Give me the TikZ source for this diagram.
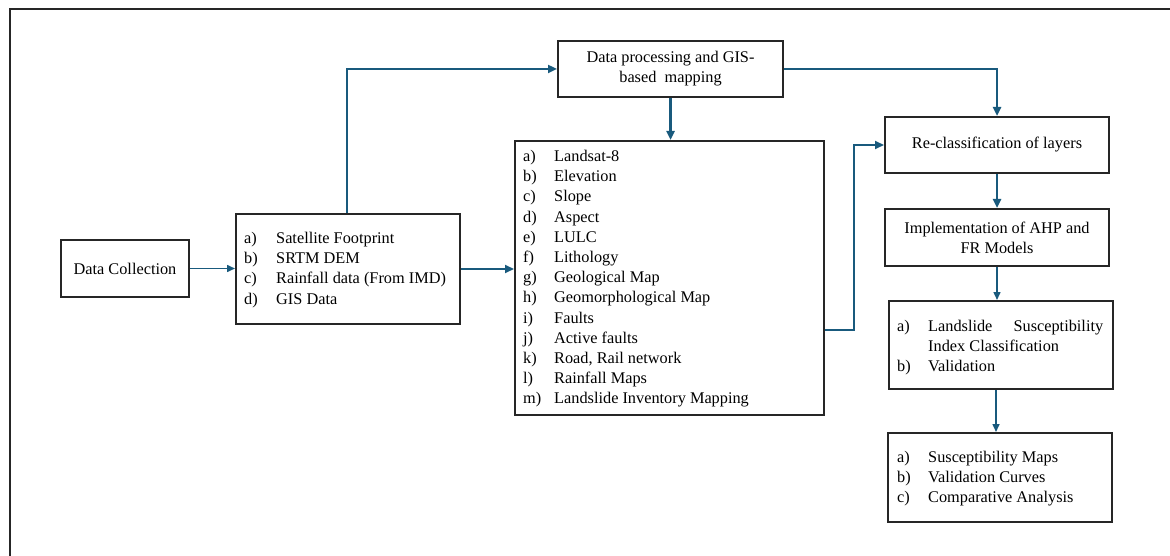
\documentclass[tikz,border=0pt]{standalone}
\usepackage{fontspec}
\setmainfont{Liberation Serif}
\usetikzlibrary{arrows.meta}
\definecolor{conn}{RGB}{25,90,125}
\tikzset{
  box/.style={draw=black!85, line width=2pt, inner sep=0pt, anchor=north west, align=center,
    font=\fontsize{16.3}{20.2}\selectfont},
  thickarr/.style={draw=conn, line width=2.4pt, -{Triangle[length=9pt,width=8pt]}},
  medarr/.style={draw=conn, line width=1.9pt, -{Triangle[length=9pt,width=8pt]}},
  thinarr/.style={draw=conn, line width=1.5pt, -{Triangle[length=8pt,width=7pt]}},
  listtxt/.style={inner sep=0pt, anchor=base west, font=\fontsize{16.3}{20.2}\selectfont},
}
\begin{document}
\begin{tikzpicture}[x=1pt,y=-1pt]
\useasboundingbox (0,0) rectangle (1170,556);
% outer frame (top and left edges visible)
\draw[line width=2pt, black!85] (9.5,560) -- (9.5,9.5) -- (1175,9.5);

% boxes
\node[box, minimum width=128pt, minimum height=57pt] (dc) at (60,239) {Data Collection};
\node[box, minimum width=224pt, minimum height=110pt] (sat) at (235,213) {};
\node[box, minimum width=225pt, minimum height=56pt] (dp) at (557,40) {Data processing and GIS-\\based\ \ mapping};
\node[box, minimum width=309pt, minimum height=274pt] (big) at (514,140) {};
\node[box, minimum width=224pt, minimum height=56pt] (rc) at (884,116) {Re-classification of layers};
\node[box, minimum width=224pt, minimum height=57pt] (impl) at (884,208) {Implementation of AHP and\\FR Models};
\node[box, minimum width=224pt, minimum height=88pt] (ls) at (888,300) {};
\node[box, minimum width=224pt, minimum height=89pt] (fin) at (887,432) {};

% list texts
\node[listtxt] (sattxt) at (244,243.5) {\begin{tabular}[t]{@{}p{32pt}@{}l@{}}
a) & Satellite Footprint\\
b) & SRTM DEM\\
c) & Rainfall data (From IMD)\\
d) & GIS Data
\end{tabular}};
\node[listtxt] (bigtxt) at (523,161.5) {\begin{tabular}[t]{@{}p{31pt}@{}l@{}}
a) & Landsat-8\\
b) & Elevation\\
c) & Slope\\
d) & Aspect\\
e) & LULC\\
f) & Lithology\\
g) & Geological Map\\
h) & Geomorphological Map\\
i) & Faults\\
j) & Active faults\\
k) & Road, Rail network\\
l) & Rainfall Maps\\
m) & Landslide Inventory Mapping
\end{tabular}};
\node[listtxt] (lstxt) at (897,331.5) {\begin{tabular}[t]{@{}p{31pt}@{}l@{}}
a) & \makebox[175pt][l]{Landslide\hfill Susceptibility}\\
   & Index Classification\\
b) & Validation
\end{tabular}};
\node[listtxt] (fintxt) at (897,462.5) {\begin{tabular}[t]{@{}p{31pt}@{}l@{}}
a) & Susceptibility Maps\\
b) & Validation Curves\\
c) & Comparative Analysis
\end{tabular}};

% connectors
\draw[thinarr] (dc.east) -- (dc.east -| sat.west);
\draw[thickarr] ([xshift=112pt]sat.north west) |- (dp.west);
\draw[medarr] (sat.east) -- (sat.east -| big.west);
\draw[thickarr] (dp.south) -- (dp.south |- big.north);
\draw[thickarr] (dp.east) -| (rc.north);
\draw[medarr] ([yshift=86pt]big.south east) -- ++(29,0) |- (rc.west);
\draw[thickarr] (rc.south) -- (rc.south |- impl.north);
\draw[thinarr] (impl.south) -- (impl.south |- ls.north);
\draw[thinarr] ([xshift=-5pt]ls.south) -- ([xshift=-5pt]ls.south |- fin.north);
\end{tikzpicture}
\end{document}
